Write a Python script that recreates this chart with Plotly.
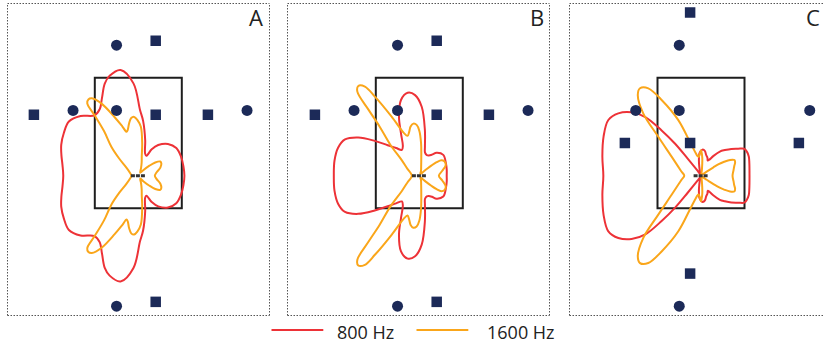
import numpy as np
import plotly.graph_objects as go

W, H = 823, 347

# ---- room geometry (units, origin at the microphone array centre) ----
room_x = [-2.0, 2.0]
room_y = [-1.5, 4.5]
array_x = [-0.34, 0.31]

circle_x = {"A": [-1, -3, -1, 5, -1], "B": [-1, -3, -1, 5, -1], "C": [-1, -3, -1, 5, -1]}
circle_y = {"A": [6, 3, 3, 3, -6], "B": [6, 3, 3, 3, -6], "C": [6, 3, 3, 3, -6]}
square_x = {"A": [0.8, -4.8, 0.8, 3.2, 0.8], "B": [0.8, -4.8, 0.8, 3.2, 0.8],
            "C": [-0.5, -3.5, -0.5, 4.5, -0.5]}
square_y = {"A": [6.2, 2.8, 2.8, 2.8, -5.8], "B": [6.2, 2.8, 2.8, 2.8, -5.8],
            "C": [7.5, 1.5, 1.5, 1.5, -4.5]}

# ---- beam patterns, upper half (deg, radius); the array is linear so the
# lower half is the mirror image ----
theta_800_A = [0, 12, 24, 36, 47, 57, 63, 68, 73, 79, 85, 88.5, 93, 99.5, 106, 110, 115, 120,
               126, 134, 142, 150, 158, 165, 172, 180]
r_800_A = [2.12, 2.12, 2.15, 2.16, 2.00, 1.68, 1.36, 0.99, 1.07, 1.66, 2.53, 3.02, 4.25, 4.93,
           4.78, 4.51, 3.95, 3.54, 3.43, 3.82, 4.05, 3.95, 3.82, 3.66, 3.52, 3.45]

theta_1600_A = [0, 10, 20, 28, 33, 38, 42, 48, 56, 64, 70, 76, 80, 83, 87, 91, 94, 97, 100, 103,
                105, 108, 112, 117, 121, 123.2, 125.2, 125.9, 127.5, 132.9, 138.2, 145, 160, 180]
r_1600_A = [0.76, 0.85, 1.08, 1.20, 1.20, 0.99, 0.69, 0.34, 0.16, 0.21, 0.37, 0.64, 0.92, 1.47,
            2.25, 2.57, 2.71, 2.67, 2.44, 2.16, 2.09, 2.39, 2.90, 3.72, 4.15, 4.19, 4.07, 3.40,
            2.59, 1.82, 1.17, 0.69, 0.41, 0.32]

theta_800_B = [0, 12, 25, 41, 53, 59, 65, 70, 76, 79, 83, 88, 93, 98, 103.6, 109, 113.4, 119,
               124, 130, 136, 142, 148, 154, 161, 170, 180]
r_800_B = [1.26, 1.29, 1.35, 1.46, 1.32, 1.13, 1.03, 1.01, 1.09, 1.36, 2.11, 3.17, 3.71, 3.85,
           3.58, 2.87, 2.12, 1.56, 1.43, 1.66, 2.02, 2.60, 3.31, 3.80, 3.95, 3.96, 3.93]

theta_1600_B = [0, 12, 22, 30, 35, 38, 40, 42, 45, 52, 62, 70, 78, 84, 87, 90, 93, 96.5, 100,
                103, 106.5, 110, 115.1, 119.3, 121.4, 124.2, 126.4, 127.6, 128.9, 133.1, 138.5,
                149.7, 163.6, 180]
r_1600_B = [0.90, 1.08, 1.31, 1.33, 1.24, 1.01, 0.74, 0.46, 0.23, 0.11, 0.11, 0.23, 0.41, 0.87,
            1.52, 2.07, 2.34, 2.41, 2.30, 2.07, 1.91, 2.11, 3.00, 4.17, 4.80, 4.99, 4.80, 3.82,
            2.91, 1.95, 1.08, 0.64, 0.41, 0.34]

theta_800_C = [0, 15, 22, 28, 32, 36, 41.5, 47, 52, 58, 62, 66, 70, 76, 81, 86, 90, 94, 98, 101,
               108, 118, 125, 128, 129, 131, 133.5, 137.6, 143, 149, 158, 169, 180]
r_800_C = [2.23, 2.30, 2.37, 2.38, 2.34, 2.11, 1.86, 1.61, 1.41, 1.06, 0.85, 0.76, 0.87, 0.98,
           1.15, 1.21, 1.15, 1.03, 0.69, 0.41, 0.14, 0.09, 0.28, 1.01, 1.89, 2.76, 3.72, 4.32,
           4.76, 4.97, 4.83, 4.62, 4.49]

theta_1600_C = [0, 10, 16, 21, 25, 28.5, 31, 33, 34, 35.5, 42, 60, 76, 82, 86, 90, 93, 97, 100,
                103, 108, 112.2, 117.4, 121.1, 124.9, 128.1, 132.8, 137.6, 147, 157.6, 168, 180]
r_1600_C = [1.45, 1.52, 1.59, 1.68, 1.70, 1.52, 1.24, 0.97, 0.69, 0.32, 0.09, 0.05, 0.09, 0.32,
            0.83, 1.17, 1.01, 0.87, 0.92, 1.06, 1.61, 2.76, 3.91, 4.69, 4.90, 4.71, 3.91, 2.67,
            1.61, 1.15, 0.92, 0.77]

patterns = {
    "A": [(theta_800_A, r_800_A), (theta_1600_A, r_1600_A)],
    "B": [(theta_800_B, r_800_B), (theta_1600_B, r_1600_B)],
    "C": [(theta_800_C, r_800_C), (theta_1600_C, r_1600_C)],
}
series_names = ["800 Hz", "1600 Hz"]
series_colors = ["#ed3237", "#faa61a"]
navy = "#1c2a58"

# ---- panel placement in pixels ----
PX = 21.75                      # pixels per unit
origin_px = {"A": 138.3, "B": 419.3, "C": 701.0}
panel_px = {"A": (8, 269), "B": (288, 550), "C": (570, 823)}
label_right_px = {"A": 264.5, "B": 545.5, "C": 822.0}
top_px, bottom_px, origin_y_px = 3.5, 315, 175.7


def closed_curve(theta, r):
    th = np.asarray(theta, float)
    rr = np.asarray(r, float)
    th_full = np.concatenate([th, 360.0 - th[::-1][1:]])
    r_full = np.concatenate([rr, rr[::-1][1:]])
    t = np.deg2rad(th_full)
    return r_full * np.cos(t), r_full * np.sin(t)


fig = go.Figure()
shapes, annotations = [], []

for i, key in enumerate(["A", "B", "C"]):
    n = "" if i == 0 else str(i + 1)
    xa, ya = "x" + n, "y" + n
    for (theta, r), name, col in zip(patterns[key], series_names, series_colors):
        x, y = closed_curve(theta, r)
        fig.add_trace(go.Scatter(x=x, y=y, mode="lines", name=name, showlegend=False,
                                 line=dict(color=col, width=2, shape="spline", smoothing=1.0),
                                 xaxis=xa, yaxis=ya, hoverinfo="skip"))
    fig.add_trace(go.Scatter(x=array_x, y=[0, 0], mode="lines", showlegend=False,
                             line=dict(color="#333333", width=3, dash="4px,1px"),
                             xaxis=xa, yaxis=ya, hoverinfo="skip"))
    fig.add_trace(go.Scatter(x=circle_x[key], y=circle_y[key], mode="markers", showlegend=False,
                             marker=dict(symbol="circle", size=11, color=navy),
                             xaxis=xa, yaxis=ya))
    fig.add_trace(go.Scatter(x=square_x[key], y=square_y[key], mode="markers", showlegend=False,
                             marker=dict(symbol="square", size=10.5, color=navy),
                             xaxis=xa, yaxis=ya))

    left, right = panel_px[key]
    ox = origin_px[key]
    fig.update_layout(**{
        ("xaxis" + n): dict(domain=[left / W, right / W], range=[(left - ox) / PX, (right - ox) / PX],
                            visible=False, fixedrange=True),
        ("yaxis" + n): dict(domain=[1 - bottom_px / H, 1 - top_px / H],
                            range=[(origin_y_px - bottom_px) / PX, (origin_y_px - top_px) / PX],
                            visible=False, fixedrange=True),
    })
    shapes.append(dict(type="rect", xref=xa, yref=ya, x0=room_x[0], x1=room_x[1],
                       y0=room_y[0], y1=room_y[1], line=dict(color="#1e1e1e", width=2),
                       layer="below"))

    # dotted frame round each panel (the last one runs off the right edge)
    fx0, fx1 = (left - 0.5) / W, (left + 261.5) / W
    fy0, fy1 = 1 - (bottom_px + 0.5) / H, 1 - top_px / H
    dot = dict(color="#555555", width=1, dash="1.5px,1.5px")
    shapes.append(dict(type="line", xref="paper", yref="paper", x0=fx0, x1=fx1, y0=fy1, y1=fy1, line=dot))
    shapes.append(dict(type="line", xref="paper", yref="paper", x0=fx0, x1=fx1, y0=fy0, y1=fy0, line=dot))
    shapes.append(dict(type="line", xref="paper", yref="paper", x0=fx0, x1=fx0, y0=fy0, y1=fy1, line=dot))
    shapes.append(dict(type="line", xref="paper", yref="paper", x0=fx1, x1=fx1, y0=fy0, y1=fy1, line=dot))

    annotations.append(dict(text=key, xref="paper", yref="paper", x=label_right_px[key] / W,
                            y=1 - 16.5 / H, xanchor="right", yanchor="middle", showarrow=False,
                            font=dict(family="Open Sans", size=22, color="#222222")))

# legend drawn along the bottom
legend_line_px = [(271.5, 323.3), (416.5, 468.3)]
legend_text_px = [334.5, 484.5]
for (l0, l1), tx, name, col in zip(legend_line_px, legend_text_px, series_names, series_colors):
    shapes.append(dict(type="line", xref="paper", yref="paper", x0=l0 / W, x1=l1 / W,
                       y0=1 - 330 / H, y1=1 - 330 / H, line=dict(color=col, width=2.2)))
    annotations.append(dict(text=name, xref="paper", yref="paper", x=tx / W, y=1 - 332 / H,
                            xanchor="left", yanchor="middle", showarrow=False,
                            font=dict(family="Open Sans", size=18, color="#222222")))

fig.update_layout(width=W, height=H, margin=dict(l=0, r=0, t=0, b=0),
                  paper_bgcolor="white", plot_bgcolor="rgba(0,0,0,0)",
                  shapes=shapes, annotations=annotations, showlegend=False)

fig.write_html("out.html")
